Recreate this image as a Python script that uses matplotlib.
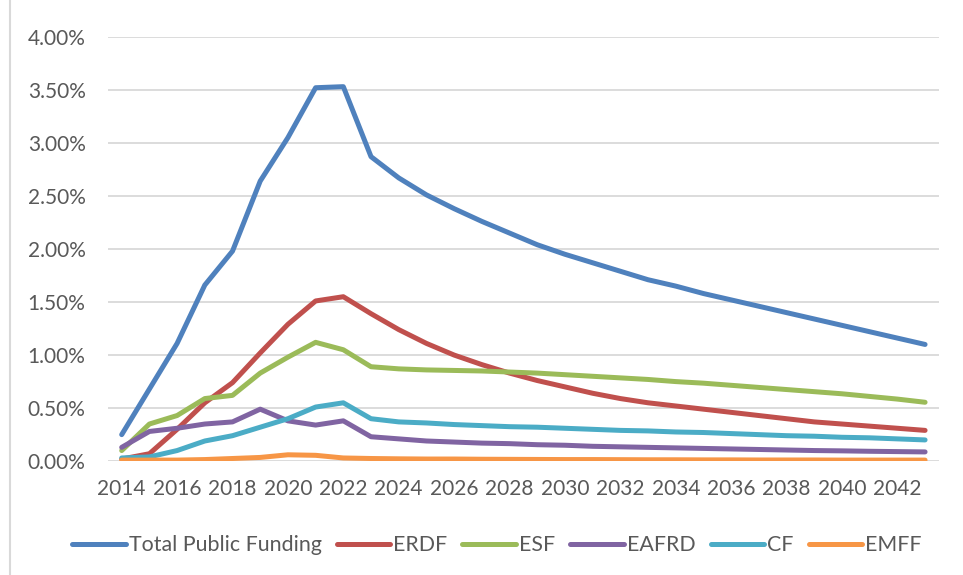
import matplotlib.pyplot as plt
import matplotlib.lines as mlines
from matplotlib.ticker import FuncFormatter

years = list(range(2014, 2044))

total = [0.25, 0.68, 1.11, 1.66, 1.98, 2.64, 3.05, 3.52, 3.53, 2.87,
         2.67, 2.51, 2.38, 2.26, 2.15, 2.04, 1.95, 1.87, 1.79, 1.71,
         1.65, 1.58, 1.52, 1.46, 1.40, 1.34, 1.28, 1.22, 1.16, 1.10]
erdf = [0.02, 0.07, 0.30, 0.55, 0.74, 1.02, 1.29, 1.51, 1.55, 1.39,
        1.24, 1.11, 1.00, 0.91, 0.83, 0.76, 0.70, 0.64, 0.59, 0.55,
        0.52, 0.49, 0.46, 0.43, 0.40, 0.37, 0.35, 0.33, 0.31, 0.29]
esf = [0.10, 0.35, 0.43, 0.59, 0.62, 0.83, 0.98, 1.12, 1.05, 0.89,
       0.87, 0.86, 0.855, 0.85, 0.84, 0.83, 0.815, 0.80, 0.785, 0.77,
       0.75, 0.735, 0.715, 0.695, 0.675, 0.655, 0.635, 0.61, 0.585, 0.555]
eafrd = [0.13, 0.28, 0.31, 0.35, 0.37, 0.49, 0.38, 0.34, 0.38, 0.23,
         0.21, 0.19, 0.18, 0.17, 0.165, 0.155, 0.15, 0.14, 0.135, 0.13,
         0.125, 0.12, 0.115, 0.11, 0.105, 0.10, 0.097, 0.093, 0.09, 0.087]
cf = [0.03, 0.04, 0.10, 0.19, 0.24, 0.32, 0.40, 0.51, 0.55, 0.40,
      0.37, 0.36, 0.345, 0.335, 0.325, 0.32, 0.31, 0.30, 0.29, 0.285,
      0.275, 0.27, 0.26, 0.25, 0.24, 0.235, 0.225, 0.22, 0.21, 0.20]
emff = [0.01, 0.01, 0.01, 0.015, 0.025, 0.035, 0.06, 0.055, 0.03, 0.025,
        0.022, 0.02, 0.02, 0.018, 0.017, 0.016, 0.015, 0.015, 0.014, 0.013,
        0.013, 0.012, 0.012, 0.011, 0.011, 0.011, 0.010, 0.010, 0.010, 0.010]

series = [
    ('Total Public Funding', total, '#4F81BD'),
    ('ERDF', erdf, '#C0504D'),
    ('ESF', esf, '#9BBB59'),
    ('EAFRD', eafrd, '#8064A2'),
    ('CF', cf, '#4BACC6'),
    ('EMFF', emff, '#F79646'),
]

plt.rcParams['font.family'] = ['Lato', 'DejaVu Sans']
txt = '#595959'

fig = plt.figure(figsize=(9.63, 5.75), dpi=100)
ax = fig.add_axes([0.112, 0.198, 0.863, 0.738])

for name, vals, col in series:
    ax.plot(years, vals, color=col, lw=3.6, solid_capstyle='round',
            solid_joinstyle='round', label=name)

ax.set_xlim(2013.5, 2043.5)
ax.set_ylim(0, 4.0)
ax.set_yticks([i * 0.5 for i in range(9)])
ax.yaxis.set_major_formatter(FuncFormatter(lambda v, p: f'{v:.2f}%'))
ax.set_xticks(list(range(2014, 2043, 2)))
ax.grid(axis='y', color='#D9D9D9', lw=1.3)
ax.set_axisbelow(True)
for s in ax.spines.values():
    s.set_visible(False)
ax.tick_params(length=0, labelsize=15, labelcolor=txt)
ax.tick_params(axis='x', pad=13)
ax.tick_params(axis='y', pad=16)

handles = [mlines.Line2D([], [], color=c, lw=3.6, solid_capstyle='round') for _, _, c in series]
leg = fig.legend(handles, [n for n, _, _ in series], loc='center', bbox_to_anchor=(0.516, 0.052),
                 ncol=6, frameon=False, fontsize=15.4, handlelength=2.5, handletextpad=0.15,
                 columnspacing=0.7, labelcolor=txt)

fig.add_artist(mlines.Line2D([10 / 963, 10 / 963], [0, 1], transform=fig.transFigure,
                             color='#D9D9D9', lw=1.5))

fig.savefig('out.png', dpi=100)
